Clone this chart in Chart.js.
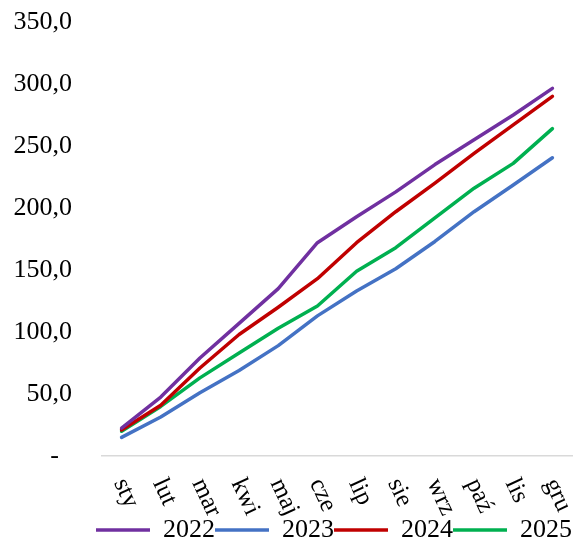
<!DOCTYPE html>
<html>
<head>
<meta charset="utf-8">
<script src="https://cdn.jsdelivr.net/npm/chart.js@4/dist/chart.umd.min.js"></script>
<style>
  html, body { margin: 0; padding: 0; background: #ffffff; }
  #wrap { width: 576px; height: 541px; position: relative; }
</style>
</head>
<body>
<div id="wrap"><canvas id="chart"></canvas></div>
<script>
// Cumulative monthly values per year
const months = ['sty', 'lut', 'mar', 'kwi', 'maj', 'cze', 'lip', 'sie', 'wrz', 'paź', 'lis', 'gru'];
const years = ['2022', '2023', '2024', '2025'];
const values2022 = [22.5, 47.5, 79, 107, 135, 172, 193, 213, 235, 255, 275, 296.5];
const values2023 = [15, 31.5, 51, 69, 89, 113, 133, 151, 173, 197, 218.5, 240.5];
const values2024 = [21, 41, 71, 98, 120, 143, 172, 197, 220, 244, 267, 290];
const values2025 = [20, 40, 63, 83, 103, 121, 149, 168, 192, 216, 236, 264];
const yTicks = [0, 50, 100, 150, 200, 250, 300, 350];

const colors = ['#7030A0', '#4472C4', '#C00000', '#00B050'];
const series = [values2022, values2023, values2024, values2025];
const FONT = '"Liberation Serif", "Times New Roman", serif';

// Month names are drawn turned clockwise, hanging below the axis
const slantedLabels = {
  id: 'slantedLabels',
  afterDraw(chart) {
    const x = chart.scales.x;
    const ctx = chart.ctx;
    ctx.save();
    ctx.fillStyle = '#000000';
    ctx.font = '25px ' + FONT;
    ctx.textAlign = 'left';
    ctx.textBaseline = 'middle';
    months.forEach((m, i) => {
      const px = x.getPixelForValue(i);
      ctx.save();
      ctx.translate(px - 2, x.top + 24);
      ctx.rotate(65 * Math.PI / 180);
      ctx.fillText(m, 0, 0);
      ctx.restore();
    });
    ctx.restore();
  }
};

new Chart(document.getElementById('chart'), {
  type: 'line',
  data: {
    labels: months,
    datasets: years.map((y, i) => ({
      label: y,
      data: series[i],
      borderColor: colors[i],
      backgroundColor: colors[i],
      borderWidth: 3.5,
      borderJoinStyle: 'round',
      borderCapStyle: 'round',
      pointRadius: 0,
      pointHoverRadius: 0,
      tension: 0,
      fill: false
    }))
  },
  options: {
    responsive: true,
    maintainAspectRatio: false,
    animation: false,
    devicePixelRatio: 1,
    layout: { padding: { top: 22, right: 4, left: 0, bottom: -12 } },
    plugins: {
      tooltip: { enabled: false },
      legend: {
        display: true,
        position: 'bottom',
        align: 'end',
        labels: {
          usePointStyle: true,
          pointStyle: 'line',
          pointStyleWidth: 54,
          padding: 0,
          color: '#000000',
          font: { family: FONT, size: 26 }
        }
      }
    },
    scales: {
      x: {
        type: 'category',
        offset: true,
        grid: { display: false, drawTicks: false },
        border: { display: true, color: '#d9d9d9', width: 1.5 },
        ticks: { display: false },
        afterFit(scale) { scale.height = 61; }
      },
      y: {
        min: 0,
        max: 350,
        afterBuildTicks(scale) { scale.ticks = yTicks.map(v => ({ value: v })); },
        grid: { display: false, drawTicks: false },
        border: { display: false },
        ticks: {
          padding: 30,
          color: '#000000',
          font: { family: FONT, size: 26 },
          callback: v => v === 0 ? '-  ' : v.toFixed(1).replace('.', ',')
        },
        afterFit(scale) {
          scale.width = 102;
          scale.paddingTop = 0;
          scale.paddingBottom = 0;
        }
      }
    }
  },
  plugins: [slantedLabels]
});
</script>
</body>
</html>
